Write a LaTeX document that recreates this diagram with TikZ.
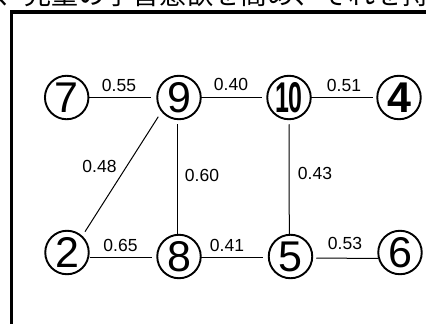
\documentclass[tikz,border=0pt]{standalone}
\usepackage{fontspec}
\setmainfont{Liberation Sans}
\newfontfamily\jpfont{Noto Sans CJK JP}
\newfontfamily\numfont{Liberation Sans}
\usetikzlibrary{calc}
\tikzset{
  vertex/.style={circle, draw, line width=1.9pt, minimum size=43.5pt, inner sep=0pt, outer sep=0pt,
                 font=\numfont\fontsize{43}{43}\selectfont},
  weight/.style={inner sep=0pt, font=\numfont\fontsize{17.5}{17.5}\selectfont},
  link/.style={line width=1pt},
  frame/.style={line width=3.2pt}
}
\begin{document}
\begin{tikzpicture}[x=1pt, y=-1pt]
  \useasboundingbox (0,0) rectangle (426,324);
  \clip (0,0) rectangle (426,324);

  % running text line above the box
  \node[anchor=base west, inner sep=0pt, font=\jpfont\fontsize{27}{27}\selectfont] (intro) at (-3,4.5)
    {、児童の学習意欲を高め、それを持};

  % surrounding box
  \draw[frame] (11.5,12) rectangle (440,340);

  % vertices
  \node[vertex] (n7)  at (66.7,97.5)  {7};
  \node[vertex] (n9)  at (179,97.5)   {9};
  \node[vertex] (n10) at (289,97.5)   {\scalebox{0.58}[1]{\bfseries 10}};
  \node[vertex] (n4)  at (399,97.5)   {\bfseries 4};
  \node[vertex] (n2)  at (67,252.5)   {2};
  \node[vertex] (n8)  at (179,256.5)  {8};
  \node[vertex] (n5)  at (290.5,256.5){5};
  \node[vertex] (n6)  at (400,252.5)  {6};

  % edges
  \draw[link, shorten >=6pt] (n7) -- (n9);
  \draw[link, shorten >=5pt] (n9) -- (n10);
  \draw[link, shorten >=4pt] (n10) -- (n4);
  \draw[link] ($(n9)+(-20.7,19.2)$) -- ($(n2)+(18,-20.8)$);
  \draw[link] ($(n9.south)+(-1.3,5)$) -- ($(n8.north)+(-1.3,-1)$);
  \draw[link] ($(n10.south)+(0,5)$) -- ($(n5.north)+(-1.2,-1)$);
  \draw[link] ($(n2.east)+(1,5)$) -- ($(n8.west)+(-5,1)$);
  \draw[link] ($(n8.east)+(0,1)$) -- ($(n5.west)+(-6,1)$);
  \draw[link] ($(n5.east)+(4,1.5)$) -- ($(n6.west)+(0,6)$);

  % weights
  \node[weight] (w79)  at (119,85)     {0.55};
  \node[weight] (w910) at (231,84)     {0.40};
  \node[weight] (w104) at (344,85)     {0.51};
  \node[weight] (w92)  at (99.5,166.5) {0.48};
  \node[weight] (w98)  at (202,175)    {0.60};
  \node[weight] (w105) at (315,173.5)  {0.43};
  \node[weight] (w28)  at (120.5,245)  {0.65};
  \node[weight] (w85)  at (227,245)    {0.41};
  \node[weight] (w56)  at (345,243.5)  {0.53};
\end{tikzpicture}
\end{document}
